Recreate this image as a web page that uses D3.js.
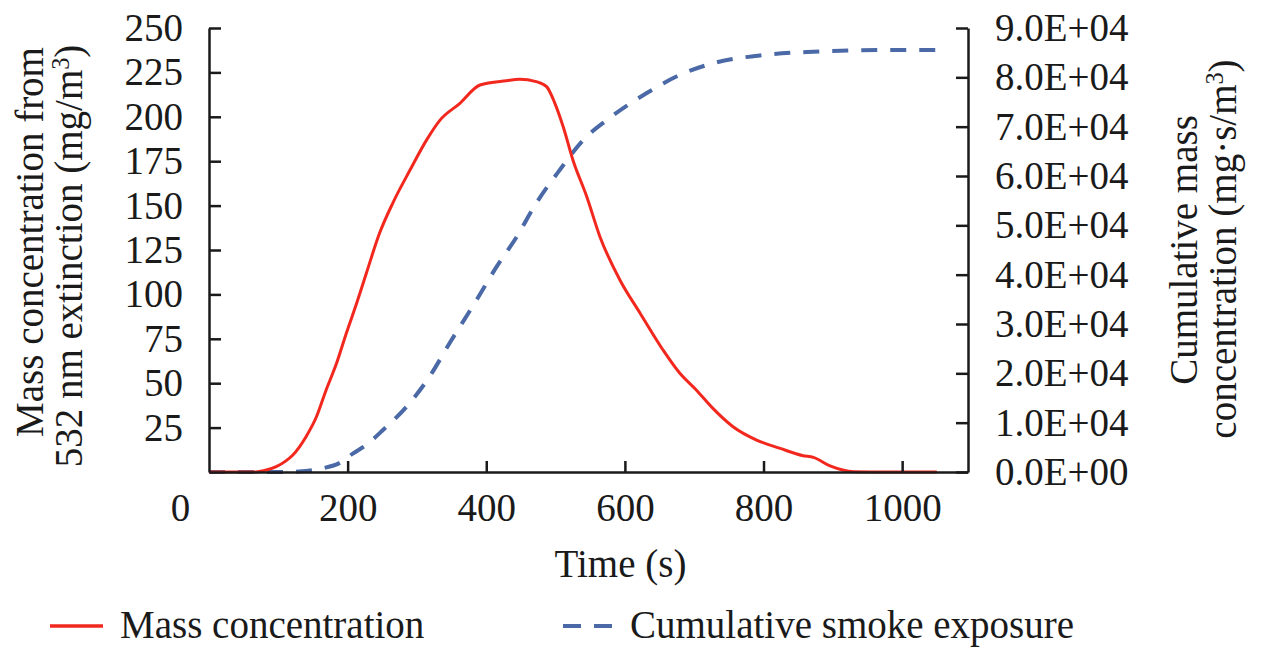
<!DOCTYPE html>
<html>
<head>
<meta charset="utf-8">
<script src="https://cdn.jsdelivr.net/npm/d3@7/dist/d3.min.js"></script>
<style>
  html, body { margin: 0; padding: 0; background: #ffffff; }
  svg { display: block; }
  text { font-family: "Liberation Serif", "Times New Roman", serif; fill: #1a1a1a; }
</style>
</head>
<body>
<svg id="chart" width="1263" height="650"></svg>
<script>
// ---- data ----
const massTime = [0, 60, 68, 80, 97, 110, 121, 140, 155, 169, 184, 198, 213, 227, 246, 265, 290, 314, 333, 362, 391, 429, 448, 472, 487, 499, 511, 525, 545, 564, 593, 622, 655, 679, 703, 727, 756, 790, 824, 857, 872, 896, 930, 980, 1050];
const massValue = [0, 0, 0, 0.8, 3, 6, 9.6, 19.9, 31.1, 46.2, 61.2, 78, 95, 111.9, 134.4, 151.3, 170, 187, 198, 207.6, 217.9, 220.3, 221.1, 219.8, 217, 207.6, 194.4, 175.7, 155, 132.5, 108, 89.4, 68.7, 55.7, 46.2, 35.8, 25.5, 18, 13.3, 9.2, 8.2, 3.4, 0.2, 0, 0];

const cumTime = [0, 100, 130, 164, 188, 208, 227, 251, 285, 318, 347, 386, 415, 444, 472, 506, 540, 574, 631, 679, 727, 800, 872, 968, 1050];
const cumValue = [0, 0, 100, 750, 1800, 3790, 5500, 8510, 13240, 19300, 26080, 34860, 41620, 47700, 54460, 61220, 67300, 71350, 76760, 80470, 82840, 84530, 85200, 85540, 85540];

const xTicks = [0, 200, 400, 600, 800, 1000];
const leftTicks = [25, 50, 75, 100, 125, 150, 175, 200, 225, 250];
const rightTicks = [0, 10000, 20000, 30000, 40000, 50000, 60000, 70000, 80000, 90000];

const seriesNames = ["Mass concentration", "Cumulative smoke exposure"];
const xTitle = "Time (s)";

// ---- layout ----
const svg = d3.select("#chart");
const L = 209, R = 968, T = 28, B = 472;
const FS = 39;
const red = "#f2281e", blue = "#4a69a6", axisCol = "#1a1a1a";

const x = d3.scaleLinear().domain([0, 1095]).range([L, R]);
const yL = d3.scaleLinear().domain([0, 250]).range([B, T]);
const yR = d3.scaleLinear().domain([0, 90000]).range([B, T]);

function sci(d) {
  if (d === 0) return "0.0E+00";
  const e = Math.floor(Math.log10(d));
  const m = d / Math.pow(10, e);
  return m.toFixed(1) + "E+" + String(e).padStart(2, "0");
}

// lines
const massData = massTime.map((t, i) => [t, massValue[i]]);
const cumData = cumTime.map((t, i) => [t, cumValue[i]]);

svg.append("path")
  .datum(cumData)
  .attr("fill", "none")
  .attr("stroke", blue)
  .attr("stroke-width", 4)
  .attr("stroke-dasharray", "16,13")
  .attr("d", d3.line().x(d => x(d[0])).y(d => yR(d[1])).curve(d3.curveMonotoneX));

svg.append("path")
  .datum(massData)
  .attr("fill", "none")
  .attr("stroke", red)
  .attr("stroke-width", 3)
  .attr("d", d3.line().x(d => x(d[0])).y(d => yL(d[1])).curve(d3.curveMonotoneX));

// axes
function styleAxis(g) {
  g.select(".domain").attr("stroke", axisCol).attr("stroke-width", 2.5);
  g.selectAll(".tick line").attr("stroke", axisCol).attr("stroke-width", 2.5);
  g.selectAll(".tick text").attr("font-size", FS).attr("font-family", "Liberation Serif").attr("fill", "#1a1a1a");
}

const gx = svg.append("g")
  .attr("transform", `translate(0,${B})`)
  .call(d3.axisBottom(x).tickValues(xTicks).tickSize(-11).tickSizeOuter(0).tickPadding(21).tickFormat(d3.format("d")))
  .call(styleAxis);
gx.selectAll(".tick").filter(d => d === 0).select("text").attr("x", -29);
gx.selectAll(".tick").filter(d => d === 0).select("line").remove();

const gl = svg.append("g")
  .attr("transform", `translate(${L},0)`)
  .call(d3.axisLeft(yL).tickValues(leftTicks).tickSize(-12).tickSizeOuter(0).tickPadding(26).tickFormat(d3.format("d")))
  .call(styleAxis);

const gr = svg.append("g")
  .attr("transform", `translate(${R},0)`)
  .call(d3.axisRight(yR).tickValues(rightTicks).tickSize(-12).tickSizeOuter(0).tickPadding(27).tickFormat(sci))
  .call(styleAxis);

// axis titles
svg.append("text")
  .attr("x", (L + R) / 2 + 32).attr("y", 577)
  .attr("text-anchor", "middle").attr("font-size", FS)
  .text(xTitle);

function rotTitle(cx, cy, parts) {
  const t = svg.append("text")
    .attr("transform", `translate(${cx},${cy}) rotate(-90)`)
    .attr("text-anchor", "middle").attr("font-size", FS);
  parts.forEach(p => {
    const s = t.append("tspan").text(p[0]);
    if (p[1]) s.attr("baseline-shift", "super").attr("font-size", FS * 0.62);
  });
}
rotTitle(43, 242, [["Mass concentration from"]]);
rotTitle(82, 256, [["532 nm extinction (mg/m"], ["3", true], [")"]]);
rotTitle(1197, 250, [["Cumulative mass"]]);
rotTitle(1236, 249, [["concentration (mg·s/m"], ["3", true], [")"]]);

// legend
const ly = 626;
svg.append("line").attr("x1", 50).attr("x2", 103).attr("y1", ly).attr("y2", ly)
  .attr("stroke", red).attr("stroke-width", 3.5);
svg.append("text").attr("x", 120).attr("y", 638).attr("font-size", FS).text(seriesNames[0]);
svg.append("line").attr("x1", 563).attr("x2", 614).attr("y1", ly).attr("y2", ly)
  .attr("stroke", blue).attr("stroke-width", 4).attr("stroke-dasharray", "18,13");
svg.append("text").attr("x", 630).attr("y", 638).attr("font-size", FS).text(seriesNames[1]);
</script>
</body>
</html>
